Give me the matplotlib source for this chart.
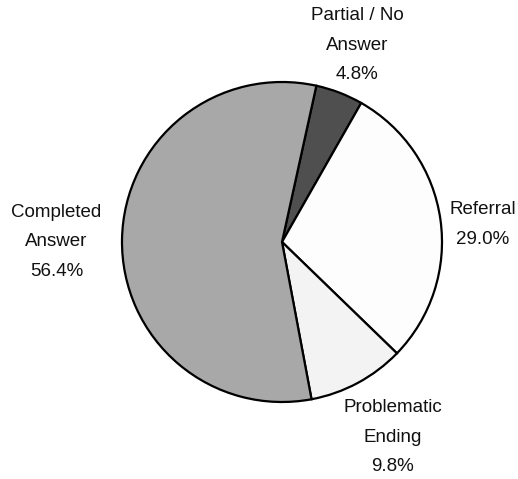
import matplotlib
matplotlib.use("Agg")
import matplotlib.pyplot as plt

plt.rcParams["font.family"] = ["Liberation Sans", "DejaVu Sans"]

# slices, clockwise from the top
labels = ["Partial / No\nAnswer", "Referral", "Problematic\nEnding", "Completed\nAnswer"]
shares = [4.8, 29.0, 9.8, 56.4]
colors = ["#4f4f4f", "#fdfdfd", "#f3f3f3", "#a8a8a8"]
# label anchors in pie-radius units
label_xy = [(0.47, 1.23), (1.256, 0.11), (0.69, -1.22), (-1.41, 0.0)]

fig = plt.figure(figsize=(5.18, 4.79), dpi=100)
ax = fig.add_axes([0, 0, 1, 1])

wedges, _ = ax.pie(shares, colors=colors, startangle=77.6, counterclock=False,
                   wedgeprops=dict(edgecolor="black", linewidth=1.6))

for (x, y), lab, s in zip(label_xy, labels, shares):
    ax.text(x, y, f"{lab}\n{s:.1f}%", ha="center", va="center",
            fontsize=13.5, linespacing=1.95, color="#111111")

ax.set_aspect("auto")
ax.set_xlim(-1.7625, 1.475)
ax.set_ylim(-1.48125, 1.5125)
ax.axis("off")

fig.savefig("out.png", dpi=100)
